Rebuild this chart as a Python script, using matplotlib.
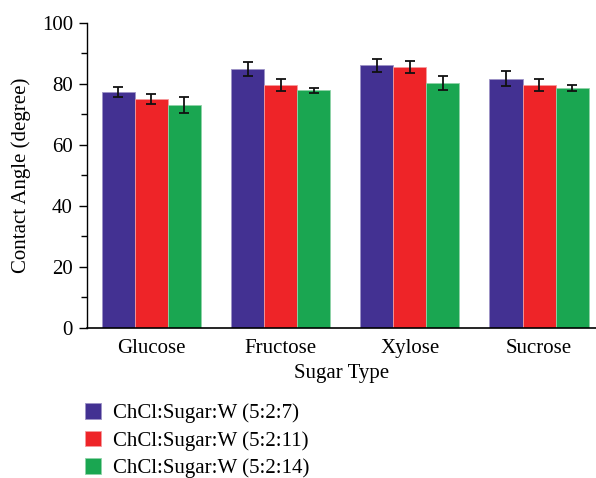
import matplotlib
matplotlib.use("Agg")
import matplotlib.pyplot as plt
import numpy as np

categories = ["Glucose", "Fructose", "Xylose", "Sucrose"]
series_labels = ["ChCl:Sugar:W (5:2:7)", "ChCl:Sugar:W (5:2:11)", "ChCl:Sugar:W (5:2:14)"]
vals_7 = [77.2, 84.8, 86.0, 81.7]
vals_11 = [74.9, 79.7, 85.5, 79.7]
vals_14 = [73.0, 77.8, 80.4, 78.7]
err_7 = [1.6, 2.4, 2.1, 2.5]
err_11 = [1.6, 2.0, 2.1, 2.0]
err_14 = [2.5, 0.9, 2.3, 1.0]

colors = ["#433192", "#EE2428", "#1AA651"]
edge_colors = ["#9d93c6", "#f59a9c", "#8fd3a8"]

plt.rcParams["font.family"] = ["Liberation Serif", "DejaVu Serif"]

fig = plt.figure(figsize=(5.96, 4.78), dpi=100)
ax = fig.add_axes([86.7 / 596, 1 - 328 / 478, 1 - 86.7 / 596, (328 - 22.7) / 478])

x = np.arange(len(categories))
w = 0.256
handles = []
for i, (v, e) in enumerate(zip([vals_7, vals_11, vals_14], [err_7, err_11, err_14])):
    b = ax.bar(x + (i - 1) * w, v, width=w, color=colors[i], edgecolor=edge_colors[i],
               linewidth=0.6, label=series_labels[i], zorder=2)
    ax.errorbar(x + (i - 1) * w, v, yerr=e, fmt="none", ecolor="#111111",
                elinewidth=1.3, capsize=3.5, capthick=1.3, zorder=3)
    handles.append(b)

ax.set_xlim(-0.5, 3.44)
ax.set_ylim(0, 100)
ax.set_xticks(x)
ax.set_xticklabels(categories, fontsize=15)
ax.tick_params(axis="x", length=0, pad=8)
ax.set_yticks([0, 20, 40, 60, 80, 100])
ax.set_yticks([10, 30, 50, 70, 90], minor=True)
ax.tick_params(axis="y", which="major", length=6, width=1, labelsize=15, direction="out", pad=4)
ax.tick_params(axis="y", which="minor", length=4, width=1, direction="out")
for s in ["top", "right"]:
    ax.spines[s].set_visible(False)
ax.spines["left"].set_linewidth(1.0)
ax.spines["bottom"].set_linewidth(1.2)
ax.set_xlabel("Sugar Type", fontsize=15, labelpad=4)
ax.set_ylabel("Contact Angle (degree)", fontsize=15, labelpad=8)

fig.legend(handles=[h for h in handles], labels=series_labels, loc="upper left",
           bbox_to_anchor=(85 / 596, 1 - 403 / 478), frameon=False, fontsize=15,
           handlelength=0.78, handleheight=0.78, handletextpad=0.55,
           labelspacing=0.36, borderpad=0, borderaxespad=0)

fig.savefig("out.png", dpi=100)
